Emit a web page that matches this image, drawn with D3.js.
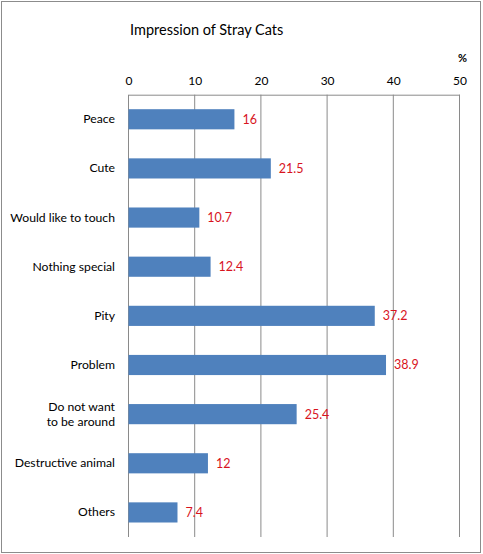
<!DOCTYPE html>
<html>
<head>
<meta charset="utf-8">
<script src="https://cdn.jsdelivr.net/npm/d3@7"></script>
<style>
  body { margin: 0; background: #fff; }
  text { font-family: Lato, "Open Sans", sans-serif; }
</style>
</head>
<body>
<div id="chart"></div>
<script>
const categories = ["Peace", "Cute", "Would like to touch", "Nothing special", "Pity",
  "Problem", "Do not want\nto be around", "Destructive animal", "Others"];
const values = [16, 21.5, 10.7, 12.4, 37.2, 38.9, 25.4, 12, 7.4];
const ticks = [0, 10, 20, 30, 40, 50];

const width = 483, height = 554;
const plotLeft = 128.5, plotRight = 459.5, plotTop = 94.7, plotBottom = 537;

const svg = d3.select("#chart").append("svg")
  .attr("width", width)
  .attr("height", height);

svg.append("rect")
  .attr("x", 1.5).attr("y", 1.5)
  .attr("width", width - 4).attr("height", height - 3)
  .attr("fill", "#fff")
  .attr("stroke", "#8c8c8c");

const x = d3.scaleLinear().domain([0, 50]).range([plotLeft, plotRight]);
const y = d3.scaleBand().domain(categories).range([plotTop, plotBottom]).paddingInner(0.59).paddingOuter(0.295);

// grid lines
svg.selectAll("line.grid")
  .data(ticks)
  .enter()
  .append("line")
  .attr("class", "grid")
  .attr("x1", d => x(d)).attr("x2", d => x(d))
  .attr("y1", plotTop).attr("y2", plotBottom)
  .attr("stroke", "#8a8a8a");

// top axis
const axis = svg.append("g")
  .attr("transform", "translate(0," + plotTop + ")")
  .call(d3.axisTop(x).tickValues(ticks).tickSize(0).tickPadding(10));
axis.select(".domain").attr("stroke", "#8a8a8a");
axis.selectAll("text").attr("font-size", 12).attr("fill", "#000")
  .style("font-family", "Lato, 'Open Sans', sans-serif");

svg.append("text")
  .attr("x", x(50) + 3).attr("y", 62)
  .attr("text-anchor", "middle")
  .attr("font-size", 11).attr("font-weight", "bold")
  .text("%");

svg.append("text")
  .attr("x", 130).attr("y", 35)
  .attr("font-size", 14.5)
  .text("Impression of Stray Cats");

// bars
svg.selectAll("rect.bar")
  .data(values)
  .enter()
  .append("rect")
  .attr("class", "bar")
  .attr("x", x(0))
  .attr("y", (d, i) => y(categories[i]))
  .attr("width", d => x(d) - x(0))
  .attr("height", y.bandwidth())
  .attr("fill", "#4f81bd");

// value labels
svg.selectAll("text.val")
  .data(values)
  .enter()
  .append("text")
  .attr("class", "val")
  .attr("x", d => x(d) + 8)
  .attr("y", (d, i) => y(categories[i]) + y.bandwidth() / 2 + 4.5)
  .attr("font-size", 12.5)
  .attr("fill", "#d8141e")
  .text(d => d);

// category labels
const labels = svg.selectAll("text.cat")
  .data(categories)
  .enter()
  .append("text")
  .attr("class", "cat")
  .attr("text-anchor", "end")
  .attr("font-size", 12.2)
  .attr("x", 115)
  .attr("y", d => y(d) + y.bandwidth() / 2 + 4);

labels.each(function (d) {
  const lines = d.split("\n");
  const t = d3.select(this);
  lines.forEach((s, k) => {
    t.append("tspan")
      .attr("x", 115)
      .attr("dy", k === 0 ? (-(lines.length - 1) * 15 / 2) : 15)
      .text(s);
  });
});
</script>
</body>
</html>
